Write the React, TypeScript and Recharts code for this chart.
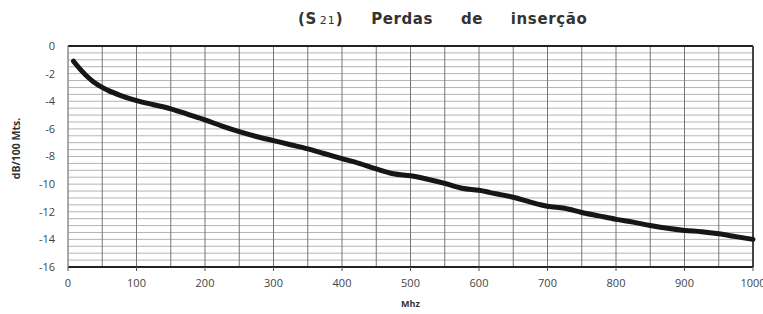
import { CartesianGrid, Label, Line, LineChart, ReferenceLine, XAxis, YAxis } from "recharts";

const freq = [8, 20, 30, 40, 50, 60, 75, 100, 125, 150, 175, 200, 225, 250, 275, 300, 325, 350, 375, 400, 425, 450, 475, 500, 525, 550, 575, 600, 625, 650, 675, 700, 725, 750, 775, 800, 825, 850, 875, 900, 925, 950, 975, 1000];
const loss = [-1.1, -1.8, -2.3, -2.7, -3.0, -3.25, -3.55, -3.95, -4.25, -4.55, -4.95, -5.35, -5.8, -6.2, -6.55, -6.85, -7.15, -7.45, -7.8, -8.15, -8.5, -8.9, -9.25, -9.4, -9.65, -9.95, -10.3, -10.45, -10.7, -10.95, -11.3, -11.6, -11.75, -12.05, -12.3, -12.55, -12.75, -13.0, -13.2, -13.35, -13.45, -13.6, -13.8, -14.0];

const xTicks = [0, 100, 200, 300, 400, 500, 600, 700, 800, 900, 1000];
const yTicks = [0, -2, -4, -6, -8, -10, -12, -14, -16];
const xGrid = [0, 50, 100, 150, 200, 250, 300, 350, 400, 450, 500, 550, 600, 650, 700, 750, 800, 850, 900, 950, 1000];
const yGrid = [0, -0.5, -1, -1.5, -2, -2.5, -3, -3.5, -4, -4.5, -5, -5.5, -6, -6.5, -7, -7.5, -8, -8.5, -9, -9.5, -10, -10.5, -11, -11.5, -12, -12.5, -13, -13.5, -14, -14.5, -15, -15.5, -16];

const data = freq.map((f, i) => ({ f, v: loss[i] }));

const tickStyle = { fontFamily: "'Open Sans', sans-serif", fontSize: 11, fill: "#444" };

export default function App() {
  return (
    <div style={{ position: "absolute", left: 0, top: 0, width: 763, height: 314, background: "#fff" }}>
      <div
        style={{
          position: "absolute",
          left: 298,
          top: 10,
          fontFamily: "'DejaVu Sans', sans-serif",
          fontWeight: "bold",
          fontSize: 15,
          color: "#333",
          whiteSpace: "pre",
          wordSpacing: 22,
          letterSpacing: 0.6
        }}
      >
        (S<span style={{ fontSize: 11, fontWeight: "normal", letterSpacing: 1, marginLeft: 3 }}>21</span>) Perdas de inserção
      </div>
      <LineChart width={763} height={314} data={data} margin={{ top: 46, right: 10, bottom: 0, left: 0 }}>
        <CartesianGrid vertical={false} horizontalValues={yGrid} stroke="#b4b4b4" strokeWidth={1} />
        <CartesianGrid horizontal={false} verticalValues={xGrid} stroke="#777" strokeWidth={1} />
        <XAxis
          dataKey="f"
          type="number"
          domain={[0, 1000]}
          ticks={xTicks}
          interval={0}
          stroke="#444"
          tick={tickStyle}
          tickSize={4}
          tickMargin={8}
          tickLine={{ stroke: "#555" }}
          axisLine={{ stroke: "#222", strokeWidth: 2 }}
          height={47}
        >
          <Label
            value="Mhz"
            position="insideBottom"
            offset={7}
            style={{ fontFamily: "'Open Sans', sans-serif", fontSize: 9, fontWeight: "bold", fill: "#333" }}
          />
        </XAxis>
        <YAxis
          type="number"
          domain={[-16, 0]}
          ticks={yTicks}
          interval={0}
          stroke="#444"
          tick={tickStyle}
          tickLine={false}
          tickSize={0}
          tickMargin={13}
          axisLine={{ stroke: "#999" }}
          width={68}
        >
          <Label
            value="dB/100 Mts."
            angle={-90}
            position="insideLeft"
            offset={16}
            dy={-8}
            style={{ fontFamily: "'Open Sans', sans-serif", fontSize: 10.5, fontWeight: "bold", fill: "#333", textAnchor: "middle" }}
          />
        </YAxis>
        <ReferenceLine y={0} stroke="#222" strokeWidth={2} />
        <ReferenceLine x={1000} stroke="#444" strokeWidth={2} />
        <Line
          type="monotone"
          dataKey="v"
          stroke="#161616"
          strokeWidth={5}
          dot={false}
          strokeLinecap="round"
          isAnimationActive={false}
        />
      </LineChart>
    </div>
  );
}
